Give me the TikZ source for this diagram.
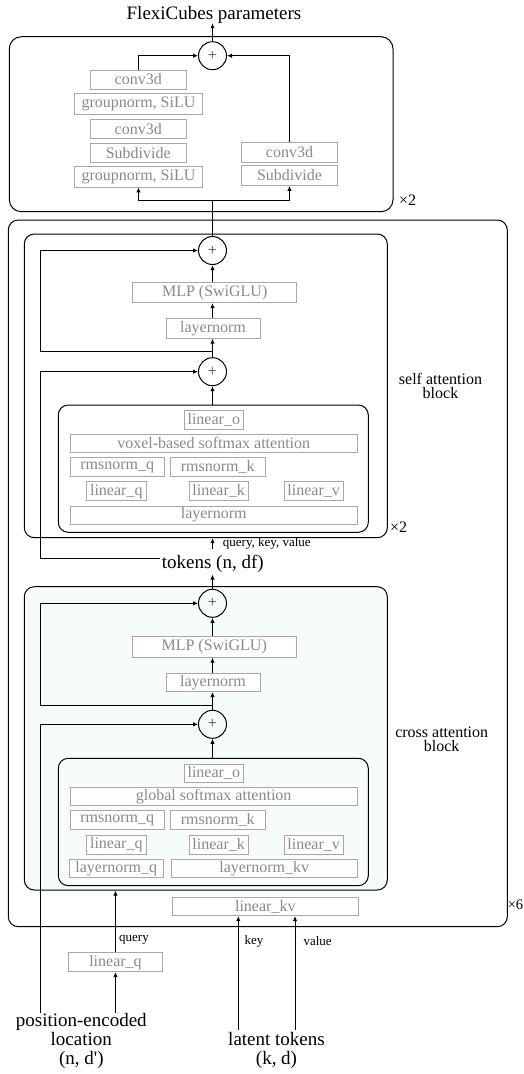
\documentclass[tikz,border=0pt]{standalone}
\usepackage{fontspec}
\setmainfont{Liberation Serif}
\usetikzlibrary{arrows.meta,calc}
\definecolor{boxline}{HTML}{A8A8A8}
\definecolor{boxtext}{HTML}{8A8A8A}
\definecolor{cafill}{HTML}{F6FCF8}
\begin{document}
\begin{tikzpicture}[x=1pt,y=-1pt,
  every node/.style={inner sep=0pt},
  op/.style={draw=boxline, text=boxtext, fill=white, line width=0.8pt,
    font=\fontsize{16}{16}\selectfont, minimum height=19pt, inner sep=0pt},
  plus/.style={circle, draw, line width=1pt, minimum size=28pt,
    font=\fontsize{16}{16}\selectfont, text=black!75},
  blk/.style={draw, rounded corners=10pt, line width=1pt},
  arr/.style={-{Latex[length=5pt,width=4.5pt]}, line width=1pt},
  ln/.style={line width=1pt},
  big/.style={font=\fontsize{19}{19.2}\selectfont, align=center},
  side/.style={font=\fontsize{16}{14.3}\selectfont, align=center},
  small/.style={font=\fontsize{13}{13}\selectfont},
  times/.style={font=\fontsize{16}{16}\selectfont, anchor=west}
]
\useasboundingbox (0,0) rectangle (523,1074);

% ---------- containers ----------
\node[blk, rounded corners=12pt, minimum width=383.7pt, minimum height=175pt] (topb) at (201.15,124.2) {};
\node[blk, minimum width=499pt, minimum height=706.7pt] (outer) at (257.8,573.35) {};
\node[blk, minimum width=363pt, minimum height=303.7pt] (sab) at (205.8,385.85) {};
\node[blk, fill=cafill, minimum width=363pt, minimum height=303.3pt] (cab) at (205.8,738.35) {};
\node[blk, minimum width=310pt, minimum height=127.3pt] (sattn) at (213.3,468.65) {};
\node[blk, minimum width=310pt, minimum height=127.4pt] (cattn) at (213.3,822) {};

\coordinate (lx) at (40.7,0);

% ---------- upsampling head ----------
\node[big, anchor=base] (flex) at (214,19) {FlexiCubes parameters};
\node[plus] (tp) at (212.5,55.7) {+};
\node[op, minimum width=96pt]    (tc1) at (138.2,79.5)  {conv3d};
\node[op, minimum width=127.7pt, minimum height=21pt] (tg1) at (138.5,103.8) {groupnorm, SiLU};
\node[op, minimum width=96pt]    (tc2) at (138.2,128.8) {conv3d};
\node[op, minimum width=96pt]    (ts1) at (138.2,153)   {Subdivide};
\node[op, minimum width=127.7pt, minimum height=21pt] (tg2) at (138.5,176.5) {groupnorm, SiLU};
\node[op, minimum width=95.4pt, minimum height=20pt] (rc) at (289.5,152.2) {conv3d};
\node[op, minimum width=95.4pt, minimum height=20pt] (rs) at (289.5,175.5) {Subdivide};
\node[times] at (399,200) {×2};
\coordinate (split) at (212.5,200);

\draw[arr] (tp.north) -- (tp |- flex.south);
\draw[arr] (tc1.north) |- (tp.west);
\draw[arr] (rc.north) |- (tp.east);

% ---------- self attention block ----------
\node[plus] (sp1) at (212.5,250.5) {+};
\node[op, minimum width=164pt, minimum height=20pt] (smlp) at (214.7,292.7) {MLP (SwiGLU)};
\node[op, minimum width=94pt, minimum height=20pt] (sln) at (213,328.3) {layernorm};
\node[plus] (sp2) at (212.5,371.7) {+};
\coordinate (sbr) at (212.5,351.7);

\node[op, minimum width=59pt, minimum height=18.3pt] (so) at (213.8,419.8) {linear\_o};
\node[op, minimum width=287.3pt, minimum height=18.3pt] (sva) at (213.7,443.2) {voxel-based softmax attention};
\node[op, minimum width=94.3pt] (srq) at (117.2,467.2) {rmsnorm\_q};
\node[op, minimum width=94.3pt] (srk) at (217.8,467.2) {rmsnorm\_k};
\node[op, minimum width=59.3pt] (slq) at (116.3,491.2) {linear\_q};
\node[op, minimum width=59.3pt] (slk) at (218.7,491.2) {linear\_k};
\node[op, minimum width=59.3pt] (slv) at (313.7,491.2) {linear\_v};
\node[op, minimum width=287.3pt, minimum height=18pt] (sln2) at (213.7,515) {layernorm};

\node[side] at (440.5,386) {self attention\\block};
\node[times] at (390,527) {×2};

\node[big, anchor=base, inner sep=2pt] (tok) at (212.8,568.3) {tokens (n, df)};
\node[small, anchor=west] at (222.7,543.3) {query, key, value};
\coordinate (tokl) at ([yshift=5.5pt]tok.west);

\draw[ln] (sp1.north) -- (split);
\draw[arr] (split) -| (tg2.south);
\draw[arr] (split) -| (rs.south);
\draw[arr] (sp1 |- smlp.north) -- (sp1.south);
\draw[arr] (sp1 |- sln.north) -- (sp1 |- smlp.south);
\draw[arr] (sp2.north) -- (sp2 |- sln.south);
\draw[arr] (sattn.north -| sp2) -- (sp2.south);
\draw[arr] (sbr) -- (sbr -| lx) |- (sp1.west);
\draw[arr] (tokl) -- (tokl -| lx) |- (sp2.west);
\draw[arr, shorten <=4pt] (tok.north -| sp2) -- (sp2 |- sab.south);

% ---------- cross attention block ----------
\node[plus] (cp1) at (212.5,603.3) {+};
\node[op, minimum width=163.7pt, minimum height=20.6pt] (cmlp) at (214.2,647) {MLP (SwiGLU)};
\node[op, minimum width=94pt, minimum height=18.4pt] (cln) at (213,682.5) {layernorm};
\node[plus] (cp2) at (212.5,724.3) {+};
\coordinate (cbr) at (212.5,705);

\node[op, minimum width=59pt, minimum height=17.5pt] (co) at (213.8,773.3) {linear\_o};
\node[op, minimum width=287.3pt, minimum height=18.4pt] (cga) at (213.7,796.5) {global softmax attention};
\node[op, minimum width=94.3pt] (crq) at (117.2,820.3) {rmsnorm\_q};
\node[op, minimum width=94.3pt] (crk) at (217.8,820.3) {rmsnorm\_k};
\node[op, minimum width=59.3pt] (clq) at (116.3,844.5) {linear\_q};
\node[op, minimum width=59.3pt] (clk) at (218.7,844.5) {linear\_k};
\node[op, minimum width=59.3pt] (clv) at (313.7,844.5) {linear\_v};
\node[op, minimum width=94pt, minimum height=18.3pt] (clnq) at (116.3,868.2) {layernorm\_q};
\node[op, minimum width=186.3pt, minimum height=18.3pt] (clnkv) at (264.2,868.2) {layernorm\_kv};

\node[side] at (441.7,739) {cross attention\\block};

\draw[arr] (cp1.north) -- (cp1 |- tok.south);
\draw[arr] (cp1 |- cmlp.north) -- (cp1.south);
\draw[arr] (cp1 |- cln.north) -- (cp1 |- cmlp.south);
\draw[arr] (cp2.north) -- (cp2 |- cln.south);
\draw[arr] (cattn.north -| cp2) -- (cp2.south);
\draw[arr] (cbr) -- (cbr -| lx) |- (cp1.west);

% ---------- inputs ----------
\node[op, minimum width=186pt, minimum height=18.4pt] (kv) at (265.3,906.5) {linear\_kv};
\node[op, minimum width=94.4pt] (oq) at (115.5,962.2) {linear\_q};
\node[anchor=west, font=\fontsize{14.5}{14.5}\selectfont] at (507.6,905) {×6};

\node[big, anchor=north] (pe) at (81.3,1013) {position-encoded\\location\\(n, d\textquotesingle)};
\node[big, anchor=north] (lt) at (276.5,1032) {latent tokens\\(k, d)};
\coordinate (kx) at (238.3,1030);
\coordinate (vx) at (295,1030);

\node[small, anchor=west] at (119,939.3) {query};
\node[small, anchor=west] at (244.3,941) {key};
\node[small, anchor=west] at (303.3,941) {value};

\draw[arr] (oq.north) -- (oq.north |- cab.south);
\draw[arr] (pe.north -| oq.south) -- (oq.south);
\draw[arr] (pe.north -| lx) |- (cp2.west);
\draw[arr] (kx) -- (kx |- kv.south);
\draw[arr] (vx) -- (vx |- kv.south);
\end{tikzpicture}
\end{document}
